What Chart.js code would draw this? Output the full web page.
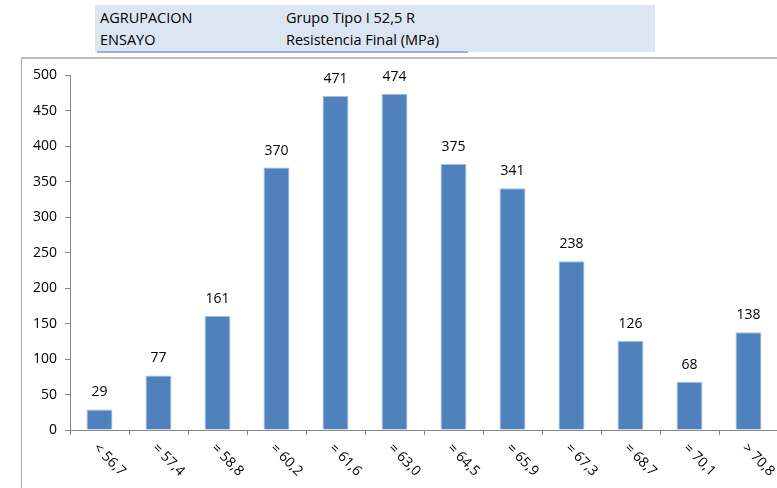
<!DOCTYPE html>
<html>
<head>
<meta charset="utf-8">
<script src="https://cdn.jsdelivr.net/npm/chart.js@4"></script>
<style>
  body { margin: 0; width: 777px; height: 488px; overflow: hidden; background: #fff; font-family: "Open Sans", sans-serif; }
  #header { position: absolute; left: 95px; top: 5px; width: 560px; height: 47px; background: #dce6f1; font-size: 14.5px; color: #000; }
  #header .row { position: absolute; left: 5px; height: 20px; line-height: 20px; }
  #header .val { position: absolute; left: 186px; white-space: nowrap; }
  #underline { position: absolute; left: 97px; top: 51px; width: 371px; height: 2px; background: #95b3d7; }
  #box { position: absolute; left: 21px; top: 57px; width: 760px; height: 440px; border-left: 1px solid #a6a6a6; border-top: 2px solid #bfbfbf; }
  #wrap { position: absolute; left: 0; top: 0; width: 756px; height: 431px; }
</style>
</head>
<body>
<div id="header">
  <div class="row" style="top:3px">AGRUPACION<span class="val">Grupo Tipo I 52,5 R</span></div>
  <div class="row" style="top:25px">ENSAYO<span class="val">Resistencia Final (MPa)</span></div>
</div>
<div id="underline"></div>
<div id="box"><div id="wrap"><canvas id="chart"></canvas></div></div>
<script>
const categories = ['< 56,7', '= 57,4', '= 58,8', '= 60,2', '= 61,6', '= 63,0', '= 64,5', '= 65,9', '= 67,3', '= 68,7', '= 70,1', '> 70,8'];
const counts = [29, 77, 161, 370, 471, 474, 375, 341, 238, 126, 68, 138];
const yTicks = [0, 50, 100, 150, 200, 250, 300, 350, 400, 450, 500];

const font = { family: 'Open Sans', size: 14 };

// value labels above the bars and rotated category labels below the axis
const labelPlugin = {
    id: 'labels',
    afterDatasetsDraw(chart) {
        const ctx = chart.ctx;
        const meta = chart.getDatasetMeta(0);
        const xScale = chart.scales.x;
        ctx.save();
        ctx.font = '14px "Open Sans"';
        ctx.fillStyle = '#000';
        ctx.textAlign = 'center';
        ctx.textBaseline = 'middle';
        meta.data.forEach((bar, i) => {
            ctx.fillText(String(counts[i]), bar.x, bar.y - 17);
        });
        ctx.textAlign = 'left';
        categories.forEach((c, i) => {
            const x = xScale.getPixelForValue(i);
            ctx.save();
            ctx.translate(x - 4, xScale.top + 16);
            ctx.rotate(Math.PI / 4);
            ctx.fillText(c, 0, 0);
            ctx.restore();
        });
        ctx.restore();
    }
};

new Chart(document.getElementById('chart'), {
    type: 'bar',
    data: {
        labels: categories,
        datasets: [{
            data: counts,
            backgroundColor: '#4f81bd',
            borderColor: '#a7bfde',
            borderWidth: 1,
            barPercentage: 0.44,
            categoryPercentage: 1
        }]
    },
    options: {
        responsive: true,
        maintainAspectRatio: false,
        animation: false,
        layout: { padding: { top: 16, bottom: 60, left: 0, right: 0 } },
        plugins: { legend: { display: false }, tooltip: { enabled: false } },
        scales: {
            x: {
                grid: { display: true, drawOnChartArea: false, tickLength: 5, color: '#868686', offset: true },
                border: { color: '#868686' },
                ticks: { display: false },
                afterFit(scale) { scale.height = 0; }
            },
            y: {
                min: 0,
                max: 500,
                afterBuildTicks(scale) { scale.ticks = yTicks.map(v => ({ value: v })); },
                grid: { display: true, drawOnChartArea: false, tickLength: 5, color: '#868686' },
                border: { color: '#868686' },
                ticks: { font: font, color: '#000', padding: 8 },
                afterFit(scale) { scale.width = 48; }
            }
        }
    },
    plugins: [labelPlugin]
});
</script>
</body>
</html>
